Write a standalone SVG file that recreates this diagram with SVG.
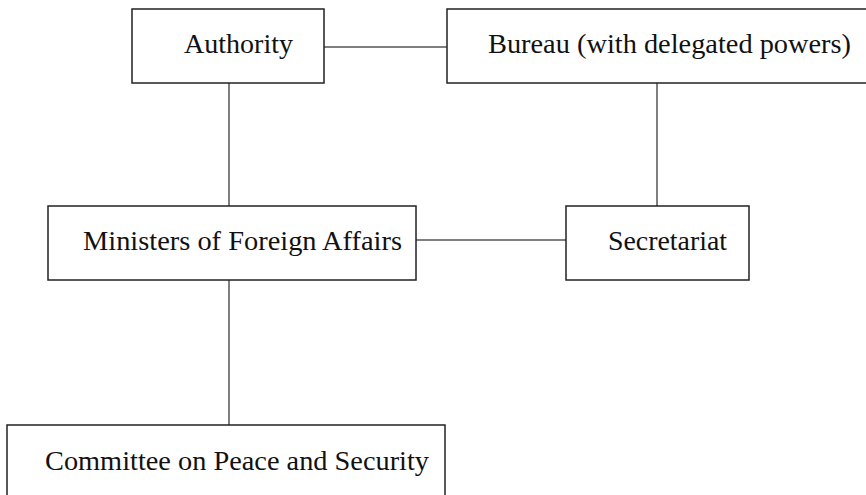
<svg xmlns="http://www.w3.org/2000/svg" width="866" height="495" viewBox="0 0 866 495">
<style>
.box{fill:#fff;stroke:#222;stroke-width:1.5}
.lbl{font-family:"Liberation Serif","DejaVu Serif",serif;font-size:28px;fill:#111}
.conn line{stroke:#555;stroke-width:1.5}
</style>
<rect width="866" height="495" fill="#fff"/>
<g class="conn" id="connectors">
<line x1="324" y1="47" x2="447" y2="47"/>
<line x1="229" y1="83" x2="229" y2="206"/>
<line x1="657" y1="83" x2="657" y2="206"/>
<line x1="416" y1="240" x2="566" y2="240"/>
<line x1="229" y1="280" x2="229" y2="425"/>
</g>
<g id="authority">
<rect class="box" x="132" y="9" width="192" height="74"/>
<text class="lbl" x="184" y="53" textLength="109" lengthAdjust="spacingAndGlyphs">Authority</text>
</g>
<g id="bureau">
<rect class="box" x="447" y="9" width="425" height="74"/>
<text class="lbl" x="488" y="53" textLength="363" lengthAdjust="spacingAndGlyphs">Bureau (with delegated powers)</text>
</g>
<g id="ministers">
<rect class="box" x="48" y="206" width="368" height="74"/>
<text class="lbl" x="83" y="250" textLength="319" lengthAdjust="spacingAndGlyphs">Ministers of Foreign Affairs</text>
</g>
<g id="secretariat">
<rect class="box" x="566" y="206" width="183" height="74"/>
<text class="lbl" x="608" y="250" textLength="119" lengthAdjust="spacingAndGlyphs">Secretariat</text>
</g>
<g id="committee">
<rect class="box" x="7" y="425" width="438" height="90"/>
<text class="lbl" x="45" y="470" textLength="384" lengthAdjust="spacingAndGlyphs">Committee on Peace and Security</text>
</g>
</svg>
